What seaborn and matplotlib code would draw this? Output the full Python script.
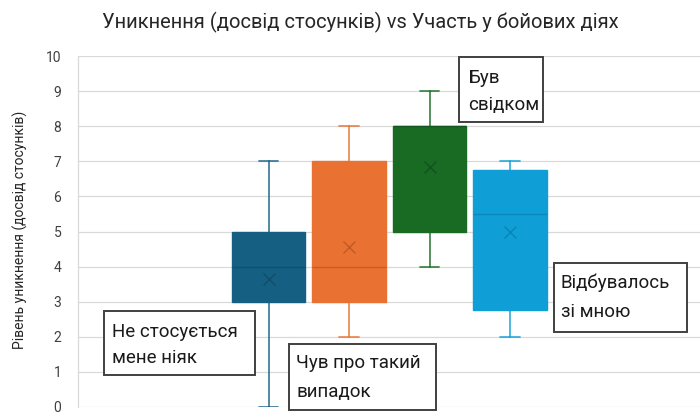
import matplotlib
matplotlib.use("Agg")
import matplotlib.pyplot as plt
import seaborn as sns
from matplotlib.patches import Rectangle

# ---- data ----
categories = ["Не стосується мене ніяк", "Чув про такий випадок", "Був свідком", "Відбувалось зі мною"]
whisker_low = [0, 2, 4, 2]
q1_values = [3, 3, 5, 2.75]
medians = [4, 4, 8, 5.5]
q3_values = [5, 7, 8, 6.75]
whisker_high = [7, 8, 9, 7]
means = [3.65, 4.55, 6.85, 5.0]
y_ticks = list(range(0, 11))

colors = ["#156082", "#E97132", "#196B24", "#0F9ED5"]
dark = ["#0e4560", "#b0501f", "#10481a", "#0a7aa6"]

sns.set_theme(style="white")
plt.rcParams["font.family"] = ["Roboto", "DejaVu Sans"]

W, H = 700, 412
fig = plt.figure(figsize=(7.0, 4.12), dpi=100)

def fx(x):
    return x / W

def fy(y):
    return 1 - y / H

ax = fig.add_axes([fx(78), fy(407), fx(700) - fx(78) + 0.01, fy(56) - fy(407)])

stats = []
for i, c in enumerate(categories):
    stats.append(dict(label=c, whislo=whisker_low[i], q1=q1_values[i], med=medians[i],
                      q3=q3_values[i], whishi=whisker_high[i], mean=means[i], fliers=[]))

positions = list(range(len(categories)))
res = ax.bxp(stats, positions=positions, widths=0.91, patch_artist=True, showmeans=True,
             showfliers=False, capwidths=0.24, manage_ticks=False)

for i, b in enumerate(res["boxes"]):
    b.set_facecolor(colors[i])
    b.set_edgecolor(colors[i])
    b.set_linewidth(1.0)
    b.set_zorder(3)
for i, m in enumerate(res["medians"]):
    m.set_color(dark[i])
    m.set_linewidth(1.0)
    m.set_alpha(0.6)
    m.set_zorder(4)
for i, mk in enumerate(res["means"]):
    mk.set_marker("x")
    mk.set_markersize(9)
    mk.set_markeredgecolor(dark[i])
    mk.set_markerfacecolor(dark[i])
    mk.set_markeredgewidth(1.0)
    mk.set_alpha(0.7)
    mk.set_zorder(5)
for i in range(len(categories)):
    for w in res["whiskers"][2 * i:2 * i + 2]:
        w.set_color(colors[i]); w.set_linewidth(1.3); w.set_alpha(0.8)
    for cp in res["caps"][2 * i:2 * i + 2]:
        cp.set_color(colors[i]); cp.set_linewidth(1.3); cp.set_alpha(0.8)

ax.set_ylim(0, 10)
ax.set_xlim(-2.37, 5.45)
ax.set_yticks(y_ticks)
ax.set_yticklabels([str(t) for t in y_ticks], color="#404040", fontsize=10)
ax.tick_params(axis="y", length=0, pad=12)
ax.set_xticks([])
ax.yaxis.grid(True, color="#d9d9d9", linewidth=0.9)
ax.set_axisbelow(True)
for s in ["top", "right", "bottom"]:
    ax.spines[s].set_visible(False)
ax.spines["left"].set_color("#d9d9d9")
ax.spines["left"].set_linewidth(0.9)
ax.patch.set_alpha(0)

fig.text(fx(360), fy(22), "Уникнення (досвід стосунків) vs Участь у бойових діях",
         ha="center", va="center", fontsize=14.5, color="#262626")
fig.text(fx(20), fy(230), "Рівень уникнення (досвід стосунків)", rotation=90,
         ha="center", va="center", fontsize=10, color="#262626")

# annotation boxes
boxes = [
    (104, 311, 255, 375, 112, 332, 358),
    (289, 344, 436, 410, 296, 363, 392),
    (459, 57, 543, 122, 468, 78, 105),
    (554, 263, 687, 332, 561, 283, 312),
]
splits = [("Не стосується", "мене ніяк"), ("Чув про такий", "випадок"),
          ("Був", "свідком"), ("Відбувалось", "зі мною")]
for (x0, y0, x1, y1, tx, l1, l2), (s1, s2) in zip(boxes, splits):
    fig.patches.append(Rectangle((fx(x0), fy(y1)), fx(x1) - fx(x0), fy(y0) - fy(y1),
                                 transform=fig.transFigure, facecolor="white",
                                 edgecolor="#404040", linewidth=1.4, zorder=10))
    fig.text(fx(tx), fy(l1), s1, ha="left", va="center", fontsize=13.5, color="#1a1a1a", zorder=11)
    fig.text(fx(tx), fy(l2), s2, ha="left", va="center", fontsize=13.5, color="#1a1a1a", zorder=11)

fig.savefig("out.png", dpi=100)
